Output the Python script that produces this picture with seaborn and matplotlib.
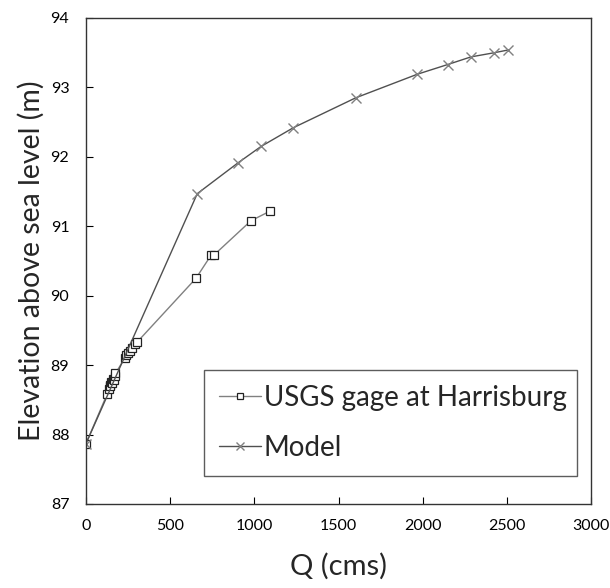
import matplotlib
matplotlib.use("Agg")
import matplotlib.pyplot as plt
import seaborn as sns
import pandas as pd

# ---- data ----
usgs_q = [0, 125, 135, 140, 145, 150, 155, 160, 165, 170, 175,
          230, 240, 250, 262, 276, 290, 303,
          653, 742, 762, 980, 1095]
usgs_e = [87.87, 88.58, 88.66, 88.72, 88.70, 88.76, 88.74, 88.80, 88.78, 88.85, 88.88,
          89.10, 89.14, 89.17, 89.20, 89.24, 89.30, 89.33,
          90.25, 90.58, 90.59, 91.08, 91.22]
model_q = [0, 661, 901, 1040, 1232, 1602, 1968, 2149, 2287, 2426, 2509]
model_e = [87.87, 91.47, 91.91, 92.15, 92.42, 92.85, 93.19, 93.33, 93.44, 93.50, 93.54]

x_ticks = [0, 500, 1000, 1500, 2000, 2500, 3000]
y_ticks = [87, 88, 89, 90, 91, 92, 93, 94]
series_names = ["USGS gage at Harrisburg", "Model"]
x_label = "Q (cms)"
y_label = "Elevation above sea level (m)"

sns.set_style("white")
plt.rcParams['font.family'] = ['Lato', 'DejaVu Sans']

fig = plt.figure(figsize=(6.10, 5.88), dpi=100)
ax = fig.add_axes([86/610, 1 - 504/588, (591-86)/610, (504-18)/588])

df_u = pd.DataFrame({"Q": usgs_q, "E": usgs_e})
df_m = pd.DataFrame({"Q": model_q, "E": model_e})

sns.lineplot(data=df_u, x="Q", y="E", ax=ax, estimator=None, sort=False,
             color="#808080", lw=1.0, marker="s", ms=5.5, mfc="white",
             mec="#222222", mew=0.9, label=series_names[0])
sns.lineplot(data=df_m, x="Q", y="E", ax=ax, estimator=None, sort=False,
             color="#505050", lw=1.0, marker="x", ms=7.5, mec="#808080",
             mew=1.0, label=series_names[1])

ax.set_xlim(0, 3000)
ax.set_ylim(87, 94)
ax.set_xticks(x_ticks)
ax.set_yticks(y_ticks)
ax.tick_params(direction="in", length=5, width=0.8, labelsize=11.5, colors="#000000",
               left=True, bottom=True, top=False, right=False)
ax.tick_params(axis="x", pad=11)
ax.tick_params(axis="y", pad=12)
for s in ax.spines.values():
    s.set_color("#333333")
    s.set_linewidth(1.0)
ax.set_xlabel(x_label, fontsize=21, labelpad=14)
ax.set_ylabel(y_label, fontsize=20.5, labelpad=4)

leg = ax.legend(loc="lower left", bbox_to_anchor=((204-86)/505, (504-476)/486, (577-204)/505, (476-363)/486),
                mode="expand", fontsize=20, frameon=True, fancybox=False,
                handlelength=1.5, handletextpad=0.1, labelspacing=0.85,
                borderpad=0.55, borderaxespad=0, markerscale=0.7)
leg.get_frame().set_edgecolor("#333333")
leg.get_frame().set_linewidth(1.0)

fig.savefig("out.png", dpi=100)
